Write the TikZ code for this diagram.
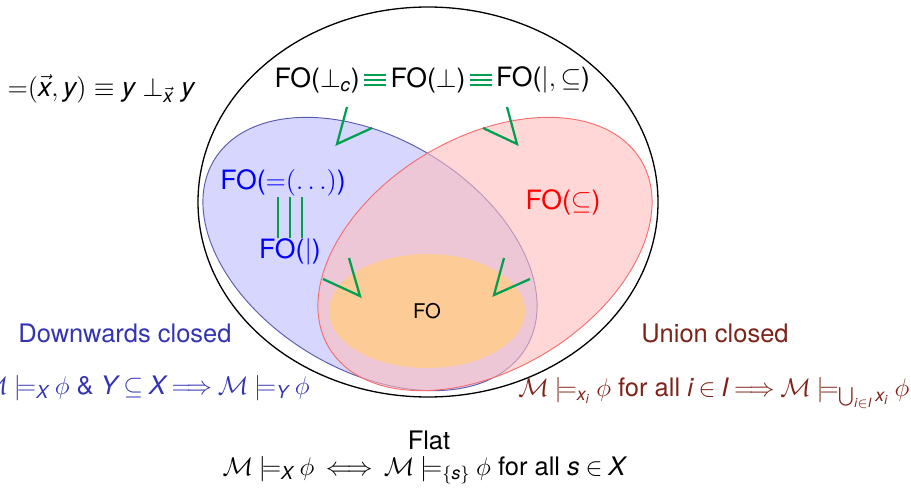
\RequirePackage{fix-cm}
\documentclass[tikz,border=0pt]{standalone}
\usepackage{amsmath}
\usepackage[no-math]{fontspec}
\setsansfont{TeX Gyre Heros}
\usepackage{xcolor}
\usepackage{tikz}
\usetikzlibrary{positioning}
% sans letters in math, as on the slide
\edef\sffam{\sfdefault}
\DeclareSymbolFont{sfletters}{TU}{\sffam}{m}{it}
\DeclareMathSymbol{x}{\mathalpha}{sfletters}{`x}
\DeclareMathSymbol{y}{\mathalpha}{sfletters}{`y}
\DeclareMathSymbol{X}{\mathalpha}{sfletters}{`X}
\DeclareMathSymbol{Y}{\mathalpha}{sfletters}{`Y}
\DeclareMathSymbol{s}{\mathalpha}{sfletters}{`s}
\DeclareMathSymbol{i}{\mathalpha}{sfletters}{`i}
\DeclareMathSymbol{I}{\mathalpha}{sfletters}{`I}
\DeclareMathSymbol{c}{\mathalpha}{sfletters}{`c}
\newcommand{\tightrel}{\thickmuskip=4mu plus 2mu minus 1mu\relax}
\definecolor{dcBlue}{RGB}{51,51,179}
\definecolor{ucBrown}{RGB}{125,35,25}
\definecolor{eqGreen}{RGB}{0,160,80}
\definecolor{blueLine}{RGB}{90,90,175}
\definecolor{redLine}{RGB}{245,110,110}
\definecolor{foOrange}{RGB}{252,203,150}

\begin{document}
\begin{tikzpicture}[
  x=0.01875cm, y=-0.01875cm,
  font=\sffamily\fontsize{14.2}{17}\selectfont,
  lbl/.style={inner sep=0pt},
  prop/.style={inner sep=0pt, font=\sffamily\fontsize{13.6}{16}\selectfont},
  rule/.style={inner sep=0pt, font=\sffamily\fontsize{13.6}{16}\selectfont\tightrel},
  eqv/.style={eqGreen, line width=1.1pt},
  vmark/.style={eqGreen, line width=1.2pt, line join=miter}
]
\useasboundingbox (0,0) rectangle (911,488);

% the classes
\draw[black, line width=0.7pt] (428,202) ellipse [x radius=230, y radius=195];
\draw[blueLine, fill=blue!16, line width=0.5pt, rotate around={-31:(370,254)}]
  (370,254) ellipse [x radius=182, y radius=116];
\draw[redLine, fill=red!26, fill opacity=0.6, line width=0.5pt, rotate around={31:(485,254)}]
  (485,254) ellipse [x radius=182, y radius=116];
\fill[foOrange] (427,311) ellipse [x radius=98, y radius=57];

% top row
\node[lbl] (dep) at (101,89) {${=}(\vec{x},y) \equiv y \perp_{\vec{x}} y$};
\node[lbl, inner xsep=2pt] (perp) at (428,80) {FO($\perp$)};
\node[lbl, inner xsep=2pt, left=12pt of perp] (perpc) {FO($\perp_c$)};
\node[lbl, inner xsep=2pt, right=12pt of perp] (barsub) {FO($|,\subseteq$)};
\foreach \s in {-2.9,0,2.9} {
  \draw[eqv] ([yshift=\s pt]perpc.east) -- ([yshift=\s pt]perp.west);
  \draw[eqv] ([yshift=\s pt]perp.east) -- ([yshift=\s pt]barsub.west);
}

% inside the ellipses
\node[lbl, text=blue] (depfo) at (283,183) {FO(${=}(\ldots)$)};
\node[lbl, text=blue] (bar) at (290,252) {FO($|$)};
\foreach \s in {-6.4,0,6.4}
  \draw[eqv] ([xshift=\s pt]bar.north) -- ([xshift=\s pt]bar.north |- depfo.south);
\node[lbl, text=red] (sub) at (563,202) {FO($\subseteq$)};
\node[lbl, font=\sffamily\fontsize{10.8}{13}\selectfont] (fo) at (427,311) {FO};

\draw[vmark] (347,107) -- (337,144) -- (372,128);
\draw[vmark] (507,107) -- (517,144) -- (483,128);
\draw[vmark] (349,258) -- (360,296) -- (323,279);
\draw[vmark] (504,258) -- (494,295) -- (530,279);

% closure properties
\node[prop, text=dcBlue] (dlab) at (125,333) {Downwards closed};
\node[rule, text=dcBlue, anchor=east] (dform) at (310,388)
  {$\mathcal{M} \models_X \phi$ \& $Y \subseteq X \Longrightarrow \mathcal{M} \models_Y \phi$};
\node[prop, text=ucBrown] (ulab) at (715,333) {Union closed};
\node[rule, text=ucBrown] (uform) at (714,393)
  {$\mathcal{M} \models_{x_i} \phi$ for all $i \in I \Longrightarrow \mathcal{M} \models_{\bigcup_{i\in I} x_i} \phi$};
\node[prop] (flab) at (429,440) {Flat};
\node[rule] (fform) at (424,470)
  {$\mathcal{M} \models_X \phi \iff \mathcal{M} \models_{\{s\}} \phi$ for all $s \in X$};
\end{tikzpicture}
\end{document}
